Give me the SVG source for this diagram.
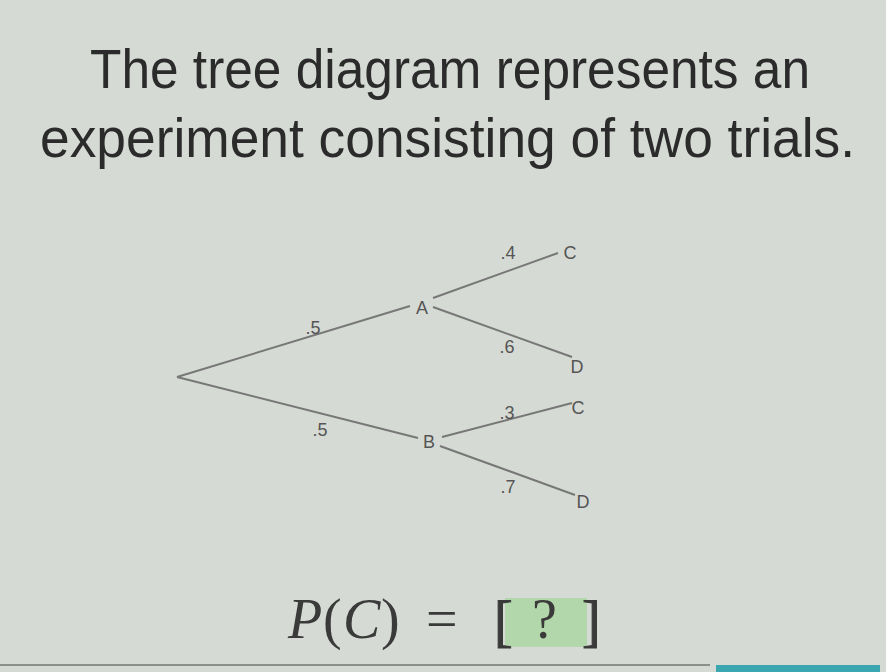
<svg xmlns="http://www.w3.org/2000/svg" width="886" height="672" viewBox="0 0 886 672">
<style>
.title{font-family:"Liberation Sans",Arial,sans-serif;font-size:56px;fill:#2b2b2b}
.lbl{font-family:"Liberation Sans",Arial,sans-serif;font-size:18px;fill:#555}
.br{stroke:#777;stroke-width:2;fill:none}
.m{font-family:"Liberation Serif","Times New Roman",serif;font-size:56px;fill:#3a3a3a}
.bk{stroke:#3a3a3a;stroke-width:1}
</style>
<rect width="886" height="672" fill="#d5dad4"/>
<g id="title">
<text class="title" x="90" y="88" textLength="720" lengthAdjust="spacingAndGlyphs">The tree diagram represents an</text>
<text class="title" x="40" y="157" textLength="815" lengthAdjust="spacingAndGlyphs">experiment consisting of two trials.</text>
</g>
<g id="connectors">
<line class="br" x1="177" y1="377" x2="410" y2="306"/>
<line class="br" x1="177" y1="377" x2="418" y2="438"/>
<line class="br" x1="433" y1="298" x2="558" y2="253"/>
<line class="br" x1="433" y1="307" x2="572" y2="357"/>
<line class="br" x1="442" y1="437" x2="572" y2="403"/>
<line class="br" x1="440" y1="446" x2="575" y2="495"/>
</g>
<g id="edge-labels">
<text class="lbl" x="313" y="334" text-anchor="middle">.5</text>
<text class="lbl" x="320" y="436" text-anchor="middle">.5</text>
<text class="lbl" x="508" y="259" text-anchor="middle">.4</text>
<text class="lbl" x="507" y="353" text-anchor="middle">.6</text>
<text class="lbl" x="507" y="419" text-anchor="middle">.3</text>
<text class="lbl" x="508" y="493" text-anchor="middle">.7</text>
</g>
<g id="node-A"><text class="lbl" x="422" y="314" text-anchor="middle">A</text></g>
<g id="node-B"><text class="lbl" x="429" y="448" text-anchor="middle">B</text></g>
<g id="node-AC"><text class="lbl" x="570" y="259" text-anchor="middle">C</text></g>
<g id="node-AD"><text class="lbl" x="577" y="373" text-anchor="middle">D</text></g>
<g id="node-BC"><text class="lbl" x="578" y="414" text-anchor="middle">C</text></g>
<g id="node-BD"><text class="lbl" x="583" y="508" text-anchor="middle">D</text></g>
<g id="question">
<rect x="505" y="598" width="82" height="49" fill="#a6d69e" opacity="0.75"/>
<text class="m" x="288" y="638" font-style="italic">P</text>
<text class="m" x="323" y="638">(</text>
<text class="m" x="343" y="638" font-style="italic">C</text>
<text class="m" x="381" y="638">)</text>
<text class="m" x="426" y="638">=</text>
<text class="m bk" x="494" y="640">[</text>
<text class="m" x="532" y="638">?</text>
<text class="m bk" x="582" y="640">]</text>
</g>
<g id="footer">
<line x1="0" y1="665" x2="710" y2="665" stroke="#8a8f8a" stroke-width="2"/>
<rect x="716" y="665" width="164" height="7" fill="#3aa7b0"/>
</g>
</svg>
